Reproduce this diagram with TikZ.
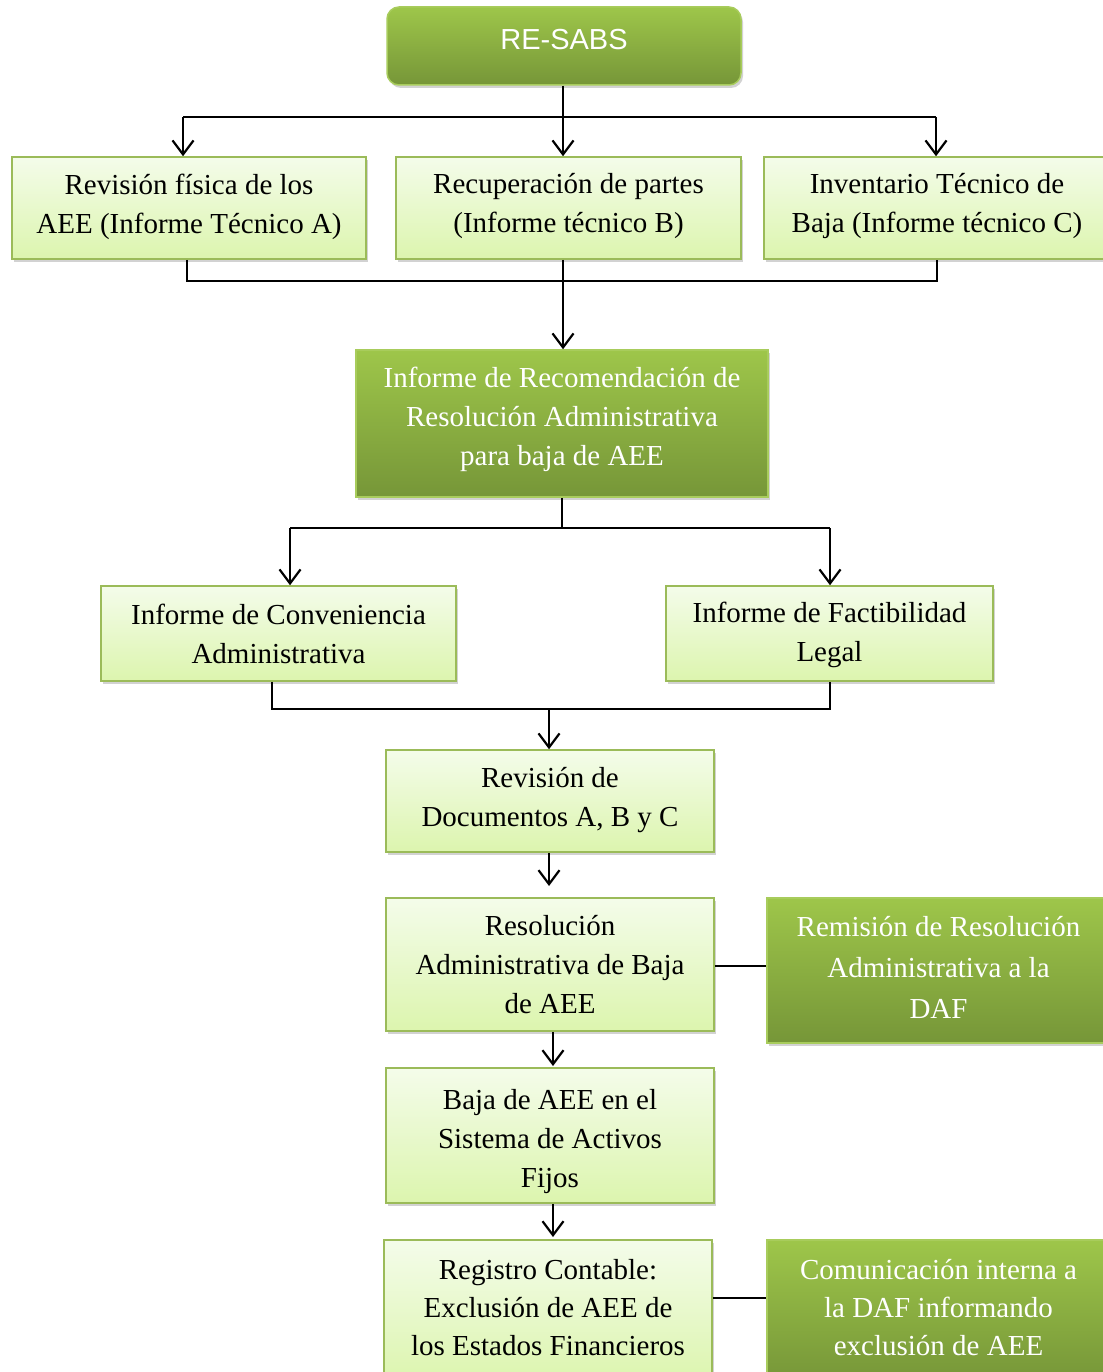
\documentclass[tikz,border=0pt]{standalone}
\usepackage{fontspec}
\setmainfont{Liberation Serif}
\newfontfamily\arialf{Liberation Sans}
\usetikzlibrary{arrows.meta,shadows}
\definecolor{lborder}{HTML}{9BBB59}
\definecolor{ltop}{HTML}{F4FCEA}
\definecolor{lbot}{HTML}{DCF5AE}
\definecolor{dtop}{HTML}{9EC64A}
\definecolor{dbot}{HTML}{769638}
\tikzset{
  shad/.style={drop shadow={shadow xshift=2pt,shadow yshift=-3pt,opacity=0.25,fill=black!70}},
  lbox/.style={shad,draw=lborder,line width=1.5pt,top color=ltop,bottom color=lbot,inner sep=0pt},
  dbox/.style={shad,draw=dtop!90!white,line width=1.5pt,top color=dtop,bottom color=dbot,inner sep=0pt},
  ltext/.style={align=center,inner sep=0pt,font=\fontsize{29}{39}\selectfont,text=black},
  dtext/.style={align=center,inner sep=0pt,font=\fontsize{29}{39}\selectfont,text=white},
  wline/.style={line width=2.2pt,draw=black},
  arr/.style={wline,-{Straight Barb[length=14pt,width=21pt,line width=2.2pt]}},
}
\begin{document}
\begin{tikzpicture}[x=1pt,y=-1pt]
\useasboundingbox (0,0) rectangle (1102,1372);
% boxes
\node[dbox,rounded corners=12pt,minimum width=354pt,minimum height=78pt] (R) at (564,46) {};
\node[lbox,minimum width=354pt,minimum height=102pt] (A) at (189,208) {};
\node[lbox,minimum width=345pt,minimum height=102pt] (B) at (568.5,208) {};
\node[lbox,minimum width=346pt,minimum height=102pt] (C) at (937,208) {};
\node[dbox,minimum width=412pt,minimum height=147pt] (D) at (562,423.5) {};
\node[lbox,minimum width=355pt,minimum height=95pt] (E) at (278.5,633.5) {};
\node[lbox,minimum width=327pt,minimum height=95pt] (F) at (829.5,633.5) {};
\node[lbox,minimum width=328pt,minimum height=102pt] (G) at (550,801) {};
\node[lbox,minimum width=328pt,minimum height=133pt] (H) at (550,964.5) {};
\node[dbox,minimum width=343pt,minimum height=145pt] (I) at (938.5,970.5) {};
\node[lbox,minimum width=328pt,minimum height=135pt] (J) at (550,1135.5) {};
\node[lbox,minimum width=328pt,minimum height=142pt] (K) at (548,1311) {};
\node[dbox,minimum width=343pt,minimum height=142pt] (L) at (938.5,1311) {};
% texts
\node[dtext,font=\arialf\fontsize{29}{34}\selectfont] (Rt) at (564,40) {RE-SABS};
\node[ltext] (At) at (189,206.5) {Revisión física de los\\AEE (Informe Técnico A)};
\node[ltext] (Bt) at (568.5,206.5) {Recuperación de partes\\(Informe técnico B)};
\node[ltext] (Ct) at (937,206.5) {Inventario Técnico de\\Baja (Informe técnico C)};
\node[dtext] (Dt) at (562,419.5) {Informe de Recomendación de\\Resolución Administrativa\\para baja de AEE};
\node[ltext] (Et) at (278.5,634) {Informe de Conveniencia\\Administrativa};
\node[ltext] (Ft) at (829.5,634.5) {Informe de Factibilidad\\Legal};
\node[ltext] (Gt) at (550,800.5) {Revisión de\\Documentos A, B y C};
\node[ltext] (Ht) at (550,964.5) {Resolución\\Administrativa de Baja\\de AEE};
\node[dtext,font=\fontsize{29}{41}\selectfont] (It) at (938.5,967.5) {Remisión de Resolución\\Administrativa a la\\DAF};
\node[ltext] (Jt) at (550,1141.5) {Baja de AEE en el\\Sistema de Activos\\Fijos};
\node[ltext,font=\fontsize{29}{38}\selectfont] (Kt) at (548,1307.5) {Registro Contable:\\Exclusión de AEE de\\los Estados Financieros};
\node[dtext,font=\fontsize{29}{38}\selectfont] (Lt) at (938.5,1307.5) {Comunicación interna a\\la DAF informando\\exclusión de AEE};
% junction coordinates
\coordinate (j1) at (563,117);
\coordinate (jL) at (183,117);
\coordinate (jR) at (936,117);
\coordinate (k1) at (187,281);
\coordinate (k2) at (563,281);
\coordinate (k3) at (937,281);
\coordinate (m1) at (562,528);
\coordinate (mL) at (290,528);
\coordinate (mR) at (830,528);
\coordinate (n1) at (272,709);
\coordinate (n2) at (549,709);
\coordinate (n3) at (830,709);
\coordinate (gh) at (549,886);
\coordinate (hi) at (714,966);
\coordinate (hj) at (553,1066);
\coordinate (jk) at (553,1237);
\coordinate (kl) at (714,1298);
% connectors
\draw[wline] (R.south -| j1) -- (j1);
\draw[wline] (jL) -- (jR);
\draw[arr] (jL) -- (jL |- A.north);
\draw[arr] (j1) -- (j1 |- B.north);
\draw[arr] (jR) -- (jR |- C.north);
\draw[wline] (k1 |- A.south) -- (k1) -- (k3) -- (k3 |- C.south);
\draw[arr] (k2 |- B.south) -- (k2 |- D.north);
\draw[wline] (m1 |- D.south) -- (m1);
\draw[wline] (mL) -- (mR);
\draw[arr] (mL) -- (mL |- E.north);
\draw[arr] (mR) -- (mR |- F.north);
\draw[wline] (n1 |- E.south) -- (n1) -- (n3) -- (n3 |- F.south);
\draw[arr] (n2) -- (n2 |- G.north);
\draw[arr] (gh |- G.south) -- (gh);
\draw[wline] (hi -| H.east) -- (hi -| I.west);
\draw[arr] (hj |- H.south) -- (hj);
\draw[arr] (jk |- J.south) -- (jk);
\draw[wline] (kl -| K.east) -- (kl -| L.west);
\end{tikzpicture}
\end{document}
